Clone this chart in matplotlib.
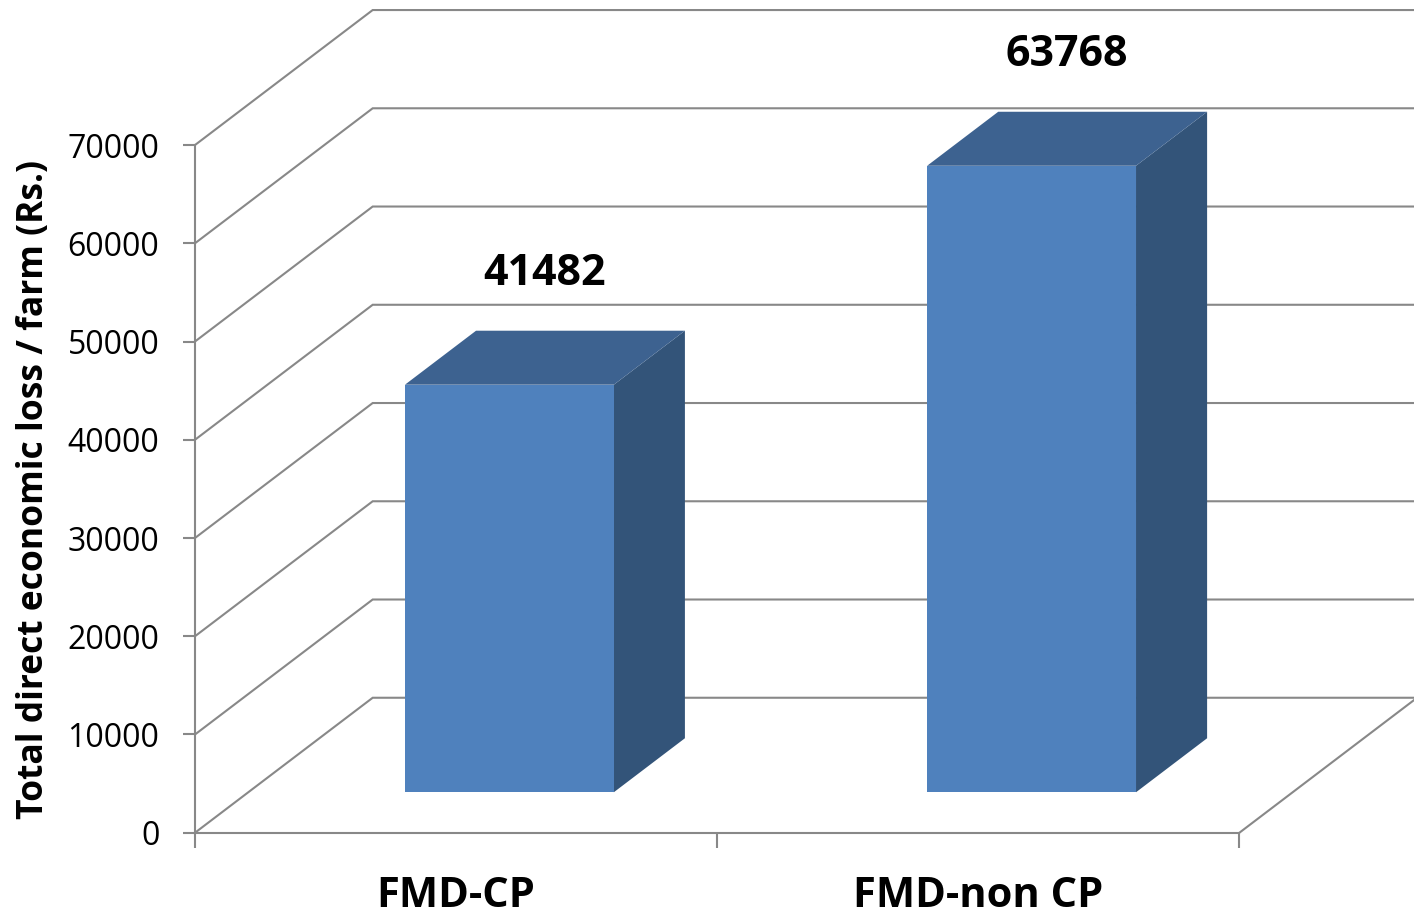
import matplotlib
matplotlib.use("Agg")
import matplotlib.pyplot as plt
from matplotlib.patches import Polygon

# data
categorias = ["FMD-CP", "FMD-non CP"]
perdidas = [41482, 63768]
valores_eje = [0, 10000, 20000, 30000, 40000, 50000, 60000, 70000]

# depth of the fake 3D box, in data units (x: categories, y: Rs.)
DX = 0.3403
DY = 13740
F0, F1 = 0.30, 0.70      # front / back of the columns, as fraction of depth
ANCHO = 0.40             # column width

GRIS = "#888888"
C_FRENTE = "#4F81BD"
C_TECHO = "#3D6290"
C_LADO = "#335479"

plt.rcParams["font.family"] = ["Open Sans", "DejaVu Sans"]

fig = plt.figure(figsize=(14.14, 9.15), dpi=100)
ax = fig.add_axes([0.1379, 0.0899, 0.7386, 0.7516])
ax.set_xlim(0, len(categorias))
ax.set_ylim(0, valores_eje[-1])

# ejes
for s in ["top", "right"]:
    ax.spines[s].set_visible(False)
for s in ["left", "bottom"]:
    ax.spines[s].set_color(GRIS)
    ax.spines[s].set_linewidth(1.5)

ax.set_yticks(valores_eje)
ax.set_yticklabels([str(v) for v in valores_eje], fontsize=23)
ax.tick_params(axis="y", length=8.6, width=1.5, color=GRIS, pad=17)

ax.set_xticks(range(len(categorias) + 1))
ax.set_xticklabels([])
ax.set_xticks([i + 0.5 for i in range(len(categorias))], minor=True)
ax.set_xticklabels(categorias, minor=True, fontsize=30, fontweight="bold")
ax.tick_params(axis="x", which="major", length=11, width=1.5, color=GRIS, direction="out")
ax.tick_params(axis="x", which="minor", length=0, pad=31)

# paredes y lineas de grilla
n = len(categorias)
for v in valores_eje:
    ax.plot([0, DX, n + DX], [v, v + DY, v + DY], color=GRIS, lw=1.5,
            clip_on=False, zorder=1, solid_joinstyle="miter")
ax.plot([n, n + DX], [0, DY], color=GRIS, lw=1.5, clip_on=False, zorder=1)

# columnas
for i, v in enumerate(perdidas):
    cx = i + 0.5
    L = cx - ANCHO / 2
    R = cx + ANCHO / 2
    frente = [(L + F0 * DX, F0 * DY), (R + F0 * DX, F0 * DY),
              (R + F0 * DX, v + F0 * DY), (L + F0 * DX, v + F0 * DY)]
    techo = [(L + F0 * DX, v + F0 * DY), (R + F0 * DX, v + F0 * DY),
             (R + F1 * DX, v + F1 * DY), (L + F1 * DX, v + F1 * DY)]
    lado = [(R + F0 * DX, F0 * DY), (R + F1 * DX, F1 * DY),
            (R + F1 * DX, v + F1 * DY), (R + F0 * DX, v + F0 * DY)]
    for pts, c in [(lado, C_LADO), (techo, C_TECHO), (frente, C_FRENTE)]:
        ax.add_patch(Polygon(pts, closed=True, facecolor=c, edgecolor="none",
                             clip_on=False, zorder=3))
    ax.annotate(str(v), xy=(cx + 0.5 * (F0 + F1) * DX, v + F1 * DY),
                xytext=(0, 41), textcoords="offset points",
                ha="center", va="center", fontsize=31, fontweight="bold",
                annotation_clip=False, zorder=4)

fig.text(34 / 1414, 0.4645, "Total direct economic loss / farm (Rs.)",
         rotation=90, ha="center", va="center", fontsize=25.5, fontweight="bold")

fig.savefig("out.png", dpi=100)
